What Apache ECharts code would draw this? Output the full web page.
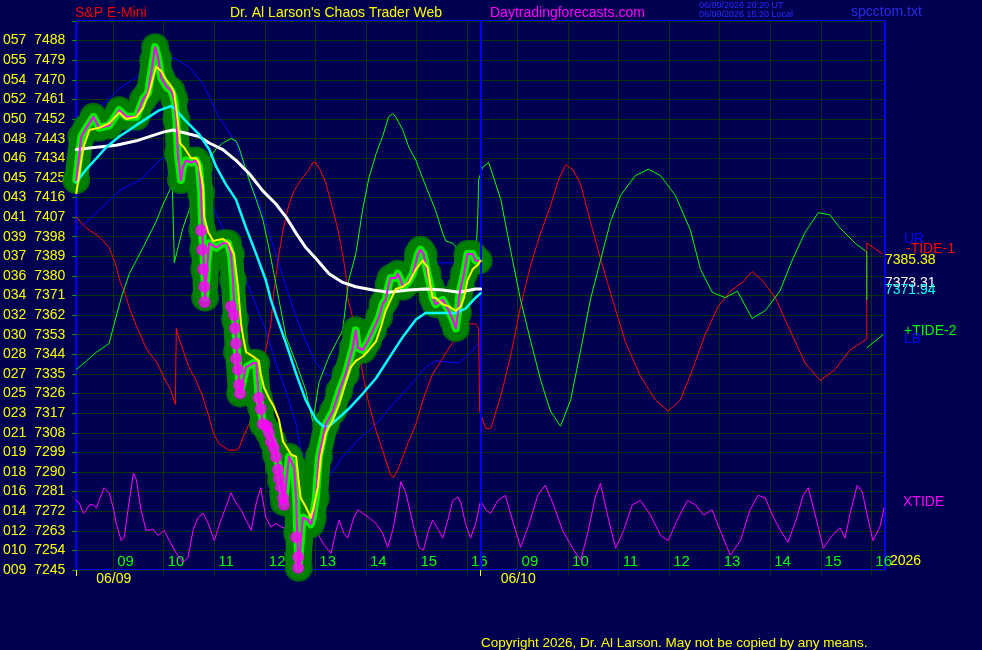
<!DOCTYPE html>
<html><head><meta charset="utf-8">
<script src="https://cdn.jsdelivr.net/npm/echarts@6/dist/echarts.min.js"></script>
<style>html,body{margin:0;padding:0;background:#000050;overflow:hidden}#c{width:982px;height:650px;}</style>
</head><body><div id="c"></div>
<script>
// ---- axis data ----
const priceTicks = [7245,7254,7263,7272,7281,7290,7299,7308,7317,7326,7335,7344,7353,7362,7371,7380,7389,7398,7407,7416,7425,7434,7443,7452,7461,7470,7479,7488];
const tickCodes = ['009','010','012','014','016','018','019','021','023','025','027','028','030','032','034','036','037','039','041','043','045','046','048','050','052','054','055','057'];
const hourTicks = [9,10,11,12,13,14,15,16,17,18,19,20,21,22,23,24];
const hourLabels = ['09','10','11','12','13','14','15','16','09','10','11','12','13','14','15','16'];
const dayStarts = [8.27,16.27];
const dayLabels = ['06/09','06/10'];
const xMin = 8.27, xMax = 24.27;

// ---- series data: [session clock hour, value] ----
const price = [[8.27,7424],[8.37,7444],[8.47,7448],[8.61,7453],[8.72,7448],[8.92,7449],[9.12,7456],[9.26,7453],[9.46,7453],[9.59,7461],[9.69,7464],[9.79,7479],[9.83,7485],[9.89,7480],[9.95,7471],[10.05,7467],[10.15,7465],[10.21,7461],[10.25,7452],[10.28,7436],[10.34,7424],[10.38,7430],[10.44,7433],[10.54,7432],[10.64,7433],[10.70,7430],[10.74,7418],[10.76,7401],[10.78,7392],[10.80,7383],[10.82,7370],[10.86,7385],[10.90,7395],[11.04,7393],[11.17,7395],[11.27,7395],[11.33,7390],[11.37,7378],[11.41,7360],[11.45,7345],[11.51,7326],[11.63,7338],[11.77,7340],[11.83,7340],[11.88,7324],[11.92,7320],[11.96,7312],[12.08,7308],[12.16,7304],[12.22,7298],[12.28,7292],[12.32,7286],[12.36,7280],[12.38,7276],[12.48,7297],[12.58,7292],[12.62,7278],[12.64,7262],[12.66,7251],[12.67,7246],[12.75,7269],[12.85,7268],[12.91,7266],[12.95,7269],[13.01,7278],[13.07,7297],[13.21,7312],[13.35,7318],[13.47,7327],[13.60,7335],[13.74,7347],[13.80,7355],[13.84,7347],[13.94,7346],[14.04,7350],[14.14,7355],[14.26,7361],[14.33,7367],[14.39,7369],[14.45,7376],[14.49,7379],[14.59,7379],[14.63,7381],[14.69,7378],[14.73,7375],[14.83,7377],[14.93,7381],[15.03,7390],[15.08,7392],[15.14,7390],[15.22,7381],[15.28,7375],[15.32,7370],[15.38,7367],[15.52,7369],[15.64,7364],[15.72,7360],[15.78,7356],[15.82,7363],[15.84,7370],[15.88,7375],[15.94,7381],[16.01,7390],[16.11,7390],[16.17,7387],[16.23,7387]];
const dots = [[10.74,7401],[10.76,7392],[10.78,7383],[10.80,7375],[10.81,7368],[11.33,7366],[11.39,7362],[11.41,7356],[11.43,7349],[11.43,7342],[11.47,7337],[11.49,7330],[11.51,7326],[11.88,7324],[11.92,7319],[11.96,7312],[12.04,7311],[12.08,7308],[12.12,7304],[12.18,7301],[12.22,7297],[12.26,7291],[12.28,7287],[12.32,7283],[12.36,7278],[12.38,7275],[12.62,7260],[12.66,7251],[12.66,7246]];
const fastMA = [[8.27,7418],[8.41,7439],[8.53,7447],[8.72,7448],[8.92,7450],[9.12,7455],[9.26,7452],[9.46,7453],[9.59,7457],[9.71,7464],[9.85,7476],[9.95,7474],[10.05,7470],[10.15,7467],[10.21,7464],[10.28,7451],[10.32,7441],[10.40,7439],[10.54,7434],[10.64,7434],[10.70,7432],[10.78,7421],[10.80,7407],[10.88,7400],[10.98,7396],[11.17,7397],[11.29,7395],[11.39,7390],[11.47,7375],[11.49,7369],[11.53,7358],[11.57,7352],[11.63,7345],[11.77,7343],[11.88,7341],[11.92,7335],[11.98,7329],[12.08,7324],[12.18,7320],[12.28,7314],[12.36,7304],[12.52,7298],[12.62,7297],[12.66,7288],[12.71,7278],[12.81,7274],[12.91,7269],[12.97,7274],[13.05,7283],[13.11,7297],[13.21,7308],[13.35,7314],[13.47,7321],[13.60,7331],[13.70,7338],[13.80,7341],[13.94,7343],[14.06,7346],[14.20,7350],[14.29,7356],[14.39,7364],[14.49,7369],[14.59,7374],[14.73,7375],[14.85,7377],[14.99,7383],[15.12,7387],[15.22,7384],[15.28,7375],[15.32,7370],[15.38,7370],[15.52,7367],[15.64,7366],[15.78,7364],[15.88,7366],[15.94,7370],[16.01,7378],[16.11,7383],[16.21,7385],[16.27,7387]];
const midMA = [[8.27,7423],[8.47,7429],[8.67,7434],[8.86,7439],[9.12,7444],[9.32,7447],[9.51,7450],[9.71,7453],[9.91,7456],[10.15,7458],[10.25,7456],[10.44,7451],[10.70,7445],[10.90,7438],[11.04,7430],[11.23,7422],[11.43,7415],[11.63,7402],[11.83,7390],[12.02,7378],[12.12,7369],[12.22,7362],[12.42,7349],[12.62,7335],[12.81,7323],[13.01,7314],[13.15,7311],[13.27,7311],[13.47,7315],[13.66,7319],[13.94,7326],[14.20,7333],[14.45,7342],[14.73,7352],[14.99,7360],[15.18,7363],[15.58,7363],[15.78,7363],[15.97,7365],[16.17,7370],[16.27,7372]];
const slowMA = [[8.27,7438],[8.67,7439],[9.06,7440],[9.46,7442],[9.79,7444.5],[9.99,7446],[10.19,7447],[10.44,7445.5],[10.70,7444],[10.90,7441],[11.17,7438],[11.43,7433],[11.69,7427],[11.96,7419],[12.22,7413],[12.42,7407],[12.62,7399.5],[12.81,7393],[13.01,7388],[13.27,7381],[13.54,7377],[13.80,7375],[14.14,7373.5],[14.45,7372.5],[14.85,7373.5],[15.18,7374],[15.52,7373.5],[15.84,7372.5],[16.17,7374],[16.27,7374]];
const upperBand = [[8.27,7445],[8.67,7456],[9.12,7466],[9.51,7472],[9.91,7478],[10.20,7480],[10.50,7476],[10.78,7468],[11.09,7453],[11.43,7441],[11.69,7424],[11.96,7409],[12.22,7390],[12.42,7375],[12.62,7361],[12.81,7350],[13.01,7340],[13.21,7335],[13.41,7333],[13.66,7340],[13.94,7349],[14.20,7357],[14.45,7366],[14.73,7375],[14.99,7383],[15.38,7386],[15.78,7386],[16.27,7393]];
const lowerBand = [[8.27,7401],[8.51,7405.5],[8.76,7411],[9.12,7419],[9.59,7425],[9.91,7433],[10.05,7434.5],[10.34,7430],[10.70,7422],[10.90,7415],[11.23,7399],[11.63,7378],[12.02,7355],[12.22,7340],[12.42,7327],[12.62,7312],[12.71,7300],[12.87,7294],[13.21,7287.5],[13.31,7289],[13.54,7297],[13.86,7305],[14.20,7312],[14.53,7321],[14.85,7329],[15.18,7338],[15.38,7341],[15.84,7340],[16.03,7344],[16.23,7349]];
const tide1 = [[8.27,7407],[8.47,7402],[8.72,7398],[8.92,7393],[9.04,7386],[9.14,7377],[9.22,7373],[9.34,7364],[9.48,7356],[9.67,7346],[9.87,7340],[10.01,7333],[10.13,7328],[10.23,7321],[10.24,7340],[10.25,7356],[10.28,7353],[10.38,7346],[10.50,7338],[10.64,7332],[10.78,7324],[10.90,7315],[10.98,7308],[11.09,7303],[11.29,7300],[11.43,7300],[11.49,7301],[11.57,7306],[11.69,7312],[11.77,7318],[11.83,7327],[11.92,7337],[12.02,7346],[12.12,7358],[12.18,7373],[12.28,7390],[12.36,7401],[12.48,7413],[12.58,7419],[12.71,7424],[12.85,7428],[12.95,7432],[13.01,7432],[13.11,7428],[13.21,7422.5],[13.35,7410],[13.45,7401],[13.54,7390],[13.60,7381],[13.64,7370],[13.80,7355],[13.94,7335],[14.04,7323],[14.20,7309],[14.33,7300],[14.49,7288.5],[14.55,7287.5],[14.65,7292],[14.83,7303],[14.99,7312],[15.14,7324],[15.32,7335],[15.52,7342],[15.64,7347],[15.84,7353],[16.03,7358],[16.17,7358],[16.23,7356],[16.25,7318],[16.37,7310],[16.47,7310],[16.67,7325],[16.86,7343],[17.06,7366],[17.26,7385],[17.46,7400],[17.65,7412],[17.81,7424],[17.95,7431],[18.09,7429],[18.25,7422],[18.44,7405],[18.64,7388],[18.88,7369],[19.13,7350],[19.43,7334],[19.73,7323],[19.98,7318],[20.22,7323],[20.46,7337],[20.71,7353],[20.97,7366],[21.21,7373],[21.45,7377],[21.64,7382],[21.84,7378],[22.10,7370],[22.39,7355],[22.69,7340],[22.99,7332],[23.28,7337],[23.58,7346],[23.91,7351],[23.91,7395],[24.23,7390]];
const tide2 = [[8.27,7337],[8.47,7341],[8.67,7345],[8.92,7349],[9.02,7358],[9.16,7370],[9.32,7381],[9.59,7393],[9.85,7405],[9.99,7413],[10.09,7418],[10.17,7422],[10.21,7386],[10.25,7390],[10.38,7402],[10.50,7410],[10.64,7419],[10.78,7428],[10.90,7434],[11.04,7438.5],[11.17,7441],[11.33,7443],[11.43,7442],[11.49,7439],[11.57,7433],[11.69,7424],[11.83,7415],[11.96,7406],[12.08,7393],[12.18,7381],[12.28,7369],[12.42,7352],[12.62,7340],[12.81,7327.5],[12.95,7313],[13.07,7331],[13.27,7343],[13.54,7355],[13.66,7378],[13.80,7390],[13.94,7411],[14.06,7425],[14.20,7436],[14.33,7444],[14.45,7453],[14.53,7454.5],[14.59,7453],[14.73,7447],[14.85,7439],[14.99,7433],[15.12,7425],[15.24,7418],[15.38,7410],[15.52,7399.5],[15.58,7396],[15.72,7395],[15.82,7392],[15.91,7390],[16.03,7387],[16.17,7387],[16.21,7405],[16.23,7424],[16.31,7430],[16.43,7432],[16.67,7415],[16.86,7392],[17.06,7369],[17.26,7350],[17.46,7332],[17.65,7318],[17.85,7311],[18.05,7323],[18.25,7346],[18.44,7369],[18.64,7387],[18.84,7405],[19.04,7417],[19.33,7426],[19.59,7429],[19.83,7426],[20.12,7417],[20.42,7401],[20.62,7383],[20.85,7372.5],[21.11,7370],[21.35,7373],[21.64,7360.5],[21.90,7364],[22.19,7373],[22.43,7387],[22.69,7400],[22.95,7409],[23.18,7408],[23.38,7402],[23.68,7395],[23.91,7391],[23.91,7369],[23.91,'-'],[23.91,7347],[24.23,7353]];
const xtide = [[8.27,76],[8.33,73],[8.41,61],[8.47,65],[8.53,71],[8.61,71],[8.67,67],[8.72,76],[8.82,91],[8.92,85],[9.00,68],[9.06,49],[9.16,29],[9.22,33],[9.30,68],[9.40,108],[9.46,100],[9.55,65],[9.65,41],[9.79,42],[9.89,35],[10.01,41],[10.11,29],[10.25,14],[10.38,4],[10.48,9],[10.58,41],[10.68,56],[10.78,61],[10.88,49],[11.00,29],[11.13,53],[11.23,68],[11.33,85],[11.43,73],[11.53,65],[11.63,53],[11.73,41],[11.83,73],[11.92,91],[12.02,56],[12.12,45],[12.22,49],[12.36,44],[12.48,45],[12.62,38],[12.75,53],[12.87,56],[13.01,41],[13.15,26],[13.31,14],[13.41,41],[13.47,53],[13.56,38],[13.64,32],[13.76,56],[13.84,65],[13.94,61],[14.06,56],[14.20,49],[14.33,38],[14.43,21],[14.53,41],[14.63,73],[14.69,98],[14.79,85],[14.93,49],[15.05,21],[15.14,18],[15.24,41],[15.32,53],[15.44,41],[15.52,32],[15.62,53],[15.72,76],[15.82,80],[15.88,73],[15.97,49],[16.07,32],[16.17,49],[16.27,76],[16.37,65],[16.47,61],[16.61,76],[16.76,82],[16.90,53],[17.06,21],[17.22,47],[17.40,82],[17.55,94],[17.71,71],[17.89,41],[18.09,20],[18.25,6],[18.40,41],[18.54,80],[18.64,96],[18.78,59],[18.94,20],[19.10,41],[19.27,71],[19.43,76],[19.63,59],[19.83,35],[19.98,29],[20.16,53],[20.36,76],[20.52,71],[20.68,59],[20.85,65],[21.01,41],[21.21,12],[21.41,29],[21.60,65],[21.76,82],[21.90,79],[22.04,59],[22.20,41],[22.35,27],[22.51,53],[22.65,82],[22.75,91],[22.89,59],[23.05,20],[23.22,35],[23.38,44],[23.48,32],[23.58,61],[23.72,94],[23.82,86],[23.91,61],[24.03,29],[24.17,45],[24.25,67]];

// ---- texts ----
const endValues = ['7385.38','7373.31','7371.94'];

const F = "'Liberation Sans', Arial, sans-serif";
const chart = echarts.init(document.getElementById('c'), null, {renderer:'canvas'});

function ln(name, data, color, width, z, extra) {
  return Object.assign({type:'line', name, data, showSymbol:false, symbol:'none', z,
    lineStyle:{color, width, cap:'round', join:'round'}, silent:true, animation:false}, extra||{});
}
function txt(text, x, y, fill, size, extra) {
  return Object.assign({type:'text', silent:true, style:{text, x, y, fill, font:size+'px '+F, textVerticalAlign:'middle'}}, extra||{});
}

const option = {
  backgroundColor:'#000050',
  animation:false,
  grid:{left:75, top:21, width:810, height:549, show:true, borderColor:'#0000ff', borderWidth:2, backgroundColor:'transparent'},
  xAxis:[
    {type:'value', min:xMin, max:xMax, position:'bottom',
     axisLine:{show:false},
     axisTick:{show:true, customValues:hourTicks, length:10, lineStyle:{color:'#0b330b'}},
     splitLine:{show:true, lineStyle:{color:'#0b330b', width:1}},
     axisLabel:{customValues:hourTicks, inside:true, margin:1, color:'#00ff00', fontSize:15, fontFamily:F,
       align:'left', verticalAlign:'bottom', padding:[0,0,0,4],
       formatter:v=>{const i=hourTicks.indexOf(Math.round(v)); return i<0?'':hourLabels[i];}}},
    {type:'value', min:xMin, max:xMax, position:'bottom',
     axisLine:{show:false}, splitLine:{show:false},
     axisTick:{show:true, customValues:dayStarts, length:6, lineStyle:{color:'#ffff00'}},
     axisLabel:{customValues:dayStarts, margin:2, color:'#ffff00', fontSize:14, fontFamily:F, align:'left', padding:[0,0,0,20],
       formatter:v=>{let b=0,d=1e9;dayStarts.forEach((s,i)=>{if(Math.abs(s-v)<d){d=Math.abs(s-v);b=i;}});return dayLabels[b];}}}
  ],
  yAxis:[
    {type:'value', min:7245, max:7497, interval:9,
     axisLine:{show:false},
     axisTick:{show:true, length:4, lineStyle:{color:'#00a000'}},
     splitLine:{show:true, lineStyle:{color:'#0b330b', width:1}},
     axisLabel:{margin:11, color:'#ffff00', fontSize:14, fontFamily:F,
       formatter:v=>{const i=priceTicks.indexOf(Math.round(v)); return i<0?'':tickCodes[i]+'  '+priceTicks[i];}}},
    {type:'value', min:-5.4, max:637.5, show:false}
  ],
  series:[
    ln('UB', upperBand, '#0000ff', 1, 2, {markLine:{silent:true, symbol:'none', label:{show:false},
        lineStyle:{color:'#0000ff', width:2, type:'solid'}, data:[{xAxis:dayStarts[1]}]}}),
    ln('LB', lowerBand, '#0000ff', 1, 2),
    ln('-TIDE-1', tide1, '#ff0000', 1, 2),
    ln('+TIDE-2', tide2, '#00ff00', 1, 2),
    ln('XTIDE', xtide, '#ff00ff', 1, 2, {yAxisIndex:1}),
    ln('blobOuter', price, '#008000', 24, 3),
    {type:'scatter', data:price, symbolSize:28, itemStyle:{color:'#008000'}, z:3, silent:true},
    ln('blobInner', price, '#00f000', 8, 4),
    ln('slow', slowMA, '#ffffff', 3, 5),
    ln('mid', midMA, '#00ffff', 2.5, 5),
    ln('price', price, '#ff00ff', 2, 6),
    {type:'scatter', data:dots, symbolSize:12, itemStyle:{color:'#ff00ff'}, z:6, silent:true},
    ln('fast', fastMA, '#ffff00', 2, 7)
  ],
  graphic:[
    txt('S&P E-Mini', 75, 13, '#ee0000', 14),
    txt("Dr. Al Larson's Chaos Trader Web", 230, 13, '#ffff00', 14),
    txt('Daytradingforecasts.com', 490, 13, '#ff00ff', 14),
    txt('06/09/2026 20:20 UT', 699, 6, '#2a2aff', 9),
    txt('06/09/2026 15:20 Local', 699, 15, '#2a2aff', 9),
    txt('spcctom.txt', 851, 12, '#2a2ae6', 14),
    txt('UR', 904, 239, '#0000ff', 14),
    txt('-TIDE-1', 906, 249, '#ff0000', 14),
    txt(endValues[0], 885, 260, '#ffff00', 14),
    txt(endValues[1], 885, 283, '#ffffff', 14),
    txt(endValues[2], 885, 290, '#00ffff', 14),
    txt('+TIDE-2', 904, 331, '#00ff00', 14),
    txt('LB', 904, 339, '#0000ff', 14),
    txt('XTIDE', 903, 502, '#ff00ff', 14),
    txt('2026', 890, 561, '#ffff00', 14),
    txt('Copyright 2026, Dr. Al Larson. May not be copied by any means.', 481, 643, '#ffff00', 13.5)
  ]
};
chart.setOption(option);
</script></body></html>
